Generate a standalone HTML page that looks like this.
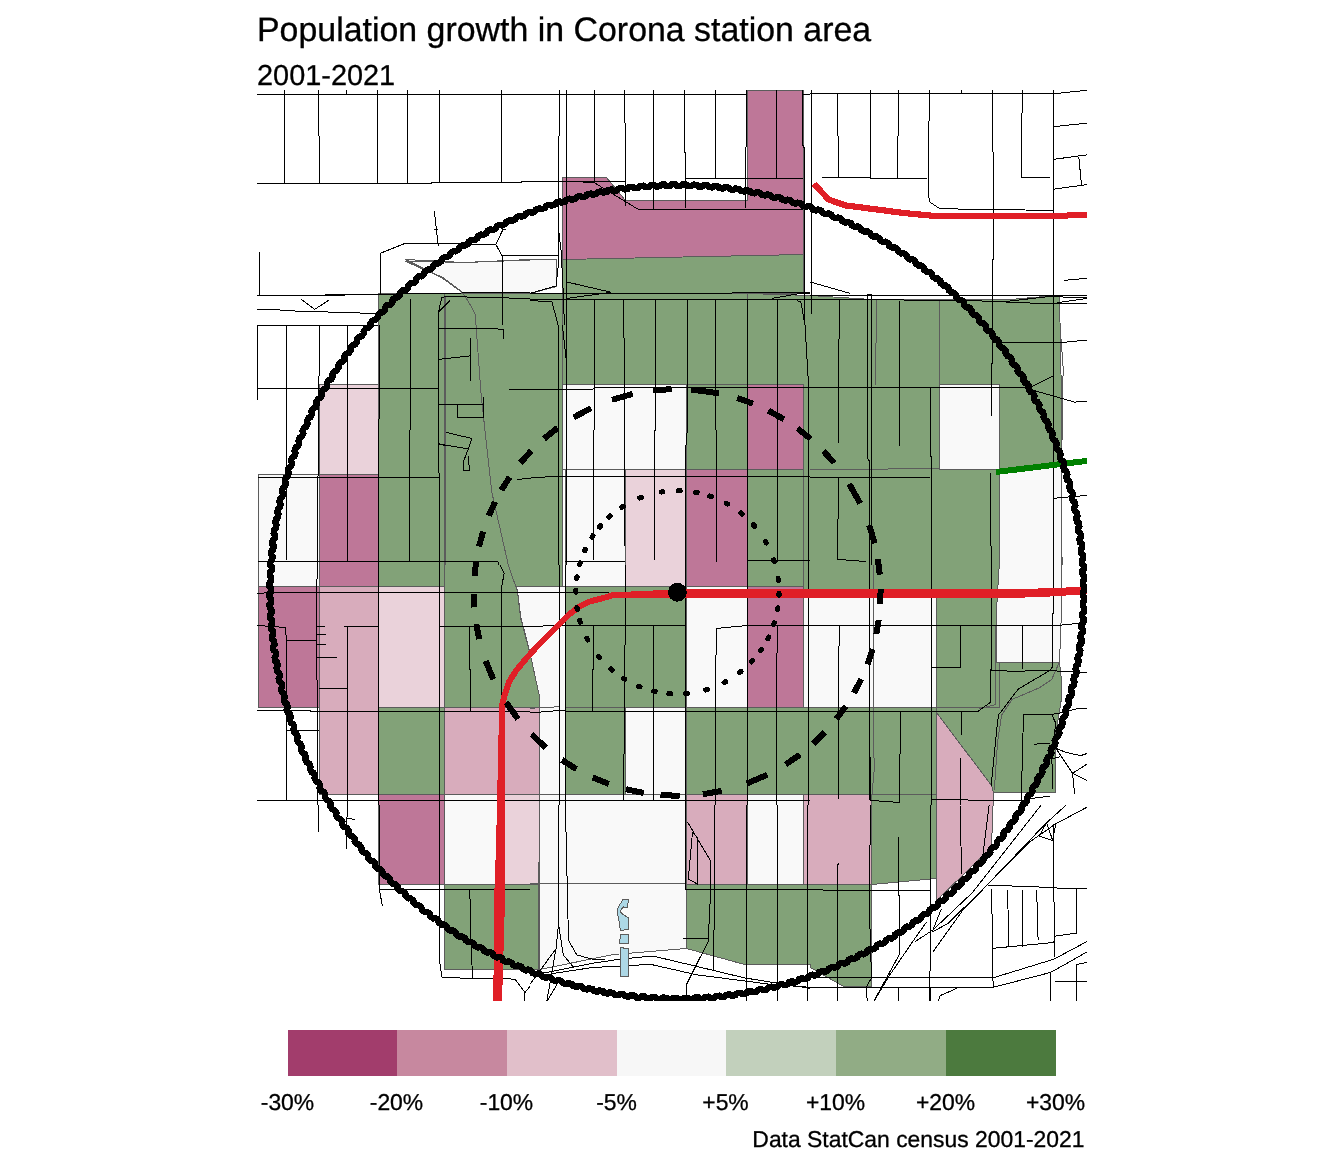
<!DOCTYPE html>
<html lang="en"><head><meta charset="utf-8"><title>Population growth in Corona station area</title>
<style>html,body{margin:0;padding:0;background:#fff}body{width:1344px;height:1152px;overflow:hidden;position:relative;font-family:"Liberation Sans",Arial,sans-serif;color:#000}svg{position:absolute;left:0;top:0;display:block}.t{position:absolute;white-space:nowrap;line-height:1;margin:0}.f polygon{stroke:#5c5c5c;stroke-width:1;stroke-linejoin:round}.s polyline,.s line{fill:none;stroke:#000;stroke-width:1}.gb polyline{fill:none;stroke:#5c5c5c;stroke-width:1}</style></head><body>
<svg width="1344" height="1152" viewBox="0 0 1344 1152" shape-rendering="crispEdges">
<defs><clipPath id="cp"><rect x="257" y="90" width="830" height="911"/></clipPath></defs>
<g clip-path="url(#cp)">
<g class="f">
<polygon points="562.5,259.5 803.5,254.5 803.5,293.5 562.5,293.5" fill="#82A278"/>
<polygon points="378.5,293.5 444.5,293.5 444.5,586.5 378.5,586.5" fill="#82A278"/>
<polygon points="444.5,293.5 562.5,293.5 562.5,586.5 516.5,586.5 517.5,591.5 520.5,617.5 530.5,655.5 539.5,696.5 539.5,707.5 444.5,707.5" fill="#82A278"/>
<polygon points="562.5,293.5 747.5,293.5 747.5,384.5 562.5,384.5" fill="#82A278"/>
<polygon points="747.5,293.5 810.5,295.5 871.5,299.5 918.5,299.5 965.5,299.5 1010.5,299.5 1055.5,295.5 1059.5,295.5 1061.5,400.5 1061.5,462.5 999.5,469.5 999.5,384.5 939.5,384.5 939.5,469.5 999.5,469.5 999.5,707.5 936.5,707.5 936.5,591.5 803.5,591.5 803.5,384.5 747.5,384.5" fill="#82A278"/>
<polygon points="686.5,384.5 747.5,384.5 747.5,469.5 686.5,469.5" fill="#82A278"/>
<polygon points="747.5,469.5 803.5,469.5 803.5,586.5 747.5,586.5" fill="#82A278"/>
<polygon points="565.5,586.5 686.5,586.5 686.5,707.5 565.5,707.5" fill="#82A278"/>
<polygon points="378.5,707.5 444.5,707.5 444.5,794.5 378.5,794.5" fill="#82A278"/>
<polygon points="565.5,707.5 625.5,707.5 625.5,794.5 565.5,794.5" fill="#82A278"/>
<polygon points="686.5,707.5 936.5,707.5 936.5,794.5 686.5,794.5" fill="#82A278"/>
<polygon points="999.5,662.5 1059.5,662.5 1061.5,680.5 1061.5,698.5 1055.5,735.5 1055.5,765.5 1055.5,792.5 993.5,792.5 991.5,785.5 936.5,712.5 936.5,707.5 999.5,707.5" fill="#82A278"/>
<polygon points="871.5,794.5 936.5,794.5 936.5,878.5 871.5,884.5" fill="#82A278"/>
<polygon points="444.5,884.5 539.5,884.5 539.5,969.5 444.5,969.5" fill="#82A278"/>
<polygon points="686.5,884.5 871.5,884.5 871.5,986.5 843.5,986.5 810.5,967.5 810.5,964.5 744.5,964.5 686.5,948.5" fill="#82A278"/>
<polygon points="747.5,90.5 803.5,90.5 803.5,254.5 562.5,259.5 562.5,177.5 606.5,177.5 625.5,200.5 747.5,200.5" fill="#BE7798"/>
<polygon points="747.5,384.5 803.5,384.5 803.5,469.5 747.5,469.5" fill="#BE7798"/>
<polygon points="319.5,474.5 378.5,474.5 378.5,586.5 319.5,586.5" fill="#BE7798"/>
<polygon points="686.5,469.5 747.5,469.5 747.5,586.5 686.5,586.5" fill="#BE7798"/>
<polygon points="258.5,586.5 319.5,586.5 319.5,707.5 258.5,707.5 258.5,650.5" fill="#BE7798"/>
<polygon points="747.5,586.5 803.5,586.5 803.5,707.5 747.5,707.5" fill="#BE7798"/>
<polygon points="378.5,794.5 444.5,794.5 444.5,884.5 378.5,884.5" fill="#BE7798"/>
<polygon points="319.5,586.5 378.5,586.5 378.5,794.5 319.5,794.5 319.5,707.5" fill="#D8ACBC"/>
<polygon points="444.5,707.5 539.5,707.5 539.5,794.5 444.5,794.5" fill="#D8ACBC"/>
<polygon points="686.5,794.5 747.5,794.5 747.5,884.5 686.5,884.5" fill="#D8ACBC"/>
<polygon points="803.5,794.5 871.5,794.5 871.5,884.5 803.5,884.5" fill="#D8ACBC"/>
<polygon points="936.5,712.5 991.5,785.5 993.5,792.5 991.5,847.5 936.5,900.5 936.5,794.5" fill="#D8ACBC"/>
<polygon points="319.5,384.5 378.5,384.5 378.5,474.5 319.5,474.5" fill="#EAD2DA"/>
<polygon points="625.5,469.5 686.5,469.5 686.5,586.5 625.5,586.5" fill="#EAD2DA"/>
<polygon points="378.5,586.5 444.5,586.5 444.5,707.5 378.5,707.5" fill="#EAD2DA"/>
<polygon points="500.5,794.5 539.5,794.5 539.5,884.5 500.5,884.5" fill="#EAD2DA"/>
<polygon points="405.5,259.5 463.5,262.5 530.5,259.5 556.5,259.5 556.5,286.5 530.5,293.5 463.5,293.5 441.5,277.5" fill="#F9F9F9"/>
<polygon points="562.5,384.5 686.5,384.5 686.5,469.5 562.5,469.5" fill="#F9F9F9"/>
<polygon points="939.5,384.5 999.5,384.5 999.5,469.5 939.5,469.5" fill="#F9F9F9"/>
<polygon points="258.5,474.5 319.5,474.5 319.5,586.5 258.5,586.5" fill="#F9F9F9"/>
<polygon points="565.5,469.5 625.5,469.5 625.5,586.5 565.5,586.5" fill="#F9F9F9"/>
<polygon points="999.5,469.5 1061.5,462.5 1061.5,560.5 1061.5,610.5 1059.5,662.5 996.5,662.5 996.5,610.5 999.5,560.5" fill="#F9F9F9"/>
<polygon points="516.5,586.5 565.5,586.5 565.5,794.5 539.5,794.5 539.5,707.5 539.5,696.5 530.5,655.5 520.5,617.5 517.5,591.5" fill="#F9F9F9"/>
<polygon points="686.5,586.5 747.5,586.5 747.5,707.5 686.5,707.5" fill="#F9F9F9"/>
<polygon points="803.5,591.5 936.5,591.5 936.5,707.5 803.5,707.5" fill="#F9F9F9"/>
<polygon points="625.5,707.5 686.5,707.5 686.5,794.5 625.5,794.5" fill="#F9F9F9"/>
<polygon points="747.5,794.5 803.5,794.5 803.5,884.5 747.5,884.5" fill="#F9F9F9"/>
<polygon points="444.5,794.5 500.5,794.5 500.5,884.5 444.5,884.5" fill="#F9F9F9"/>
<polygon points="539.5,794.5 686.5,794.5 686.5,948.5 613.5,954.5 539.5,969.5" fill="#F9F9F9"/>
</g>
<g class="gb">
<polyline points="405.2,261.0 464.6,262.5 530.0,260.0"/>
<polyline points="405.2,261.0 422.9,269.4 441.7,276.7 462.5,292.3 470.8,305.8 475.0,314.2 476.0,325.0"/>
<polyline points="445.4,296.5 445.4,325.0"/>
<polyline points="939.2,300.6 939.2,325.0"/>
<polyline points="876.2,299.6 876.2,325.0"/>
<polyline points="445.4,325.0 445.4,565.0"/>
<polyline points="476.0,325.0 481.2,395.8 491.7,491.7 508.3,565.0"/>
<polyline points="876.2,325.0 875.6,385.4"/>
<polyline points="939.6,325.0 939.6,385.4"/>
<polyline points="810.0,469.2 874.6,469.2 939.2,468.3"/>
<polyline points="1060.0,325.0 1063.1,366.7 1062.5,429.2 1061.0,462.5 1062.1,565.0"/>
<polyline points="444.8,565.0 444.8,794.2"/>
<polyline points="508.3,565.0 517.7,592.1 520.8,617.1 530.0,652.5"/>
<polyline points="530.0,708.3 559.2,706.7"/>
<polyline points="873.5,565.0 873.5,752.5 874.6,765.0 871.5,800.4"/>
<polyline points="995.4,625.4 995.4,704.6 978.8,708.8"/>
<polyline points="1059.0,662.9 1051.7,679.6 1039.2,687.9 1012.1,699.4 1001.7,715.0 997.5,742.1 994.4,790.0"/>
<polyline points="530.0,883.8 686.2,883.8"/>
<polyline points="539.4,805.0 538.3,969.6"/>
</g>
<g class="s">
<polyline points="257.1,94.4 530.0,94.4"/>
<polyline points="284.6,90.2 284.6,182.5"/>
<polyline points="377.5,90.2 377.5,182.5"/>
<polyline points="407.5,90.2 407.5,182.5"/>
<polyline points="439.6,90.2 439.6,182.5"/>
<polyline points="501.5,90.2 501.5,182.5"/>
<polyline points="318.3,90.2 318.3,135.0 319.4,137.1 319.4,182.9"/>
<polyline points="346.2,90.2 346.2,94.4"/>
<polyline points="257.1,183.1 431.2,183.1 433.3,182.3 520.8,182.3 522.9,181.5 530.0,181.5"/>
<polyline points="259.4,251.7 259.4,295.4"/>
<polyline points="257.1,295.4 325.0,295.4 395.8,294.0 468.8,292.9 530.0,292.5"/>
<polyline points="325.0,294.0 379.2,294.4"/>
<polyline points="257.1,309.4 270.8,309.4 302.1,311.5 333.3,312.1 375.0,313.5"/>
<polyline points="301.0,299.2 314.6,309.4 328.8,300.2"/>
<polyline points="257.1,325.0 378.1,325.0"/>
<polyline points="380.2,295.4 380.2,253.3 405.2,243.3 495.8,244.4 503.1,229.2 505.8,229.2"/>
<polyline points="495.8,244.4 502.1,255.8 530.0,255.8"/>
<polyline points="502.7,255.8 502.7,325.0"/>
<polyline points="434.4,211.0 436.5,230.8 438.5,246.5"/>
<polyline points="434.4,229.2 437.5,229.2"/>
<polyline points="410.4,298.5 410.4,325.0"/>
<polyline points="438.5,325.0 438.5,312.1 450.0,300.6"/>
<polyline points="438.5,312.1 441.7,297.5 445.8,296.5 530.0,298.5"/>
<polyline points="530.0,94.4 746.7,94.4"/>
<polyline points="802.9,94.4 810.0,94.4"/>
<polyline points="559.6,90.2 559.6,135.0 558.5,137.1 558.5,228.8 558.5,264.2 556.0,286.0 530.0,293.3"/>
<polyline points="558.5,228.8 561.2,251.7 563.3,293.3 564.4,325.0"/>
<polyline points="566.5,90.2 566.5,325.0"/>
<polyline points="594.6,90.2 594.6,181.9"/>
<polyline points="624.8,90.2 624.8,122.5 625.8,124.6 625.8,205.8"/>
<polyline points="653.5,90.2 653.5,209.4"/>
<polyline points="684.6,90.2 684.6,151.7 685.6,153.8 685.6,207.9"/>
<polyline points="715.4,90.2 715.4,178.1"/>
<polyline points="746.7,90.2 746.7,145.4 745.6,147.5 745.6,207.9"/>
<polyline points="776.5,90.2 776.5,178.1"/>
<polyline points="802.9,90.2 802.9,145.4 804.0,147.5 804.0,325.0"/>
<polyline points="685.8,178.1 802.9,178.1"/>
<polyline points="638.3,209.4 802.9,209.4"/>
<polyline points="530.0,181.5 625.8,181.5"/>
<polyline points="575.8,181.5 594.6,182.9 638.3,209.4"/>
<polyline points="530.0,255.8 558.1,255.8"/>
<polyline points="566.5,281.9 611.2,292.3 566.5,298.5"/>
<polyline points="530.0,293.3 810.0,292.9"/>
<polyline points="530.0,299.2 810.0,299.2"/>
<polyline points="594.6,299.6 594.6,325.0"/>
<polyline points="623.8,299.6 623.8,325.0"/>
<polyline points="655.6,299.6 655.6,325.0"/>
<polyline points="687.3,299.6 687.3,325.0"/>
<polyline points="715.4,299.6 715.4,325.0"/>
<polyline points="747.7,299.6 747.7,325.0"/>
<polyline points="777.9,299.6 777.9,325.0"/>
<polyline points="551.9,301.7 558.1,325.0"/>
<polyline points="530.0,300.6 551.9,301.7"/>
<polyline points="771.7,298.5 800.8,293.3 810.0,293.3"/>
<polyline points="796.7,300.6 800.8,301.7 805.0,325.0"/>
<polyline points="810.0,93.8 1053.8,93.8 1087.1,90.2"/>
<polyline points="811.0,90.2 811.0,314.2"/>
<polyline points="837.7,94.4 837.7,135.0 838.5,137.1 838.5,177.3"/>
<polyline points="870.4,90.2 870.4,178.1"/>
<polyline points="898.5,90.2 898.5,135.0 897.5,137.1 897.5,178.1"/>
<polyline points="929.2,90.2 929.2,114.2 928.1,157.9 928.1,178.1 929.2,201.7 939.2,208.3 968.3,209.4 1024.6,210.0 1053.3,210.4"/>
<polyline points="961.5,90.2 961.5,94.4"/>
<polyline points="992.7,90.2 992.7,151.7 993.8,153.8 993.8,257.9 992.7,260.0 992.7,325.0"/>
<polyline points="1022.5,90.2 1022.5,112.1 1021.5,114.2 1021.5,177.3 1049.6,177.3"/>
<polyline points="1053.3,90.2 1053.3,325.0"/>
<polyline points="821.9,177.3 868.3,177.3 870.4,178.1 926.7,178.1"/>
<polyline points="1053.3,126.7 1087.1,123.1"/>
<polyline points="1053.3,159.4 1087.1,154.8"/>
<polyline points="1053.3,189.2 1087.1,184.6"/>
<polyline points="1078.8,156.9 1081.5,185.0"/>
<polyline points="1064.2,280.4 1087.1,278.3"/>
<polyline points="810.0,295.4 1087.1,295.4"/>
<polyline points="810.0,281.9 849.6,293.3"/>
<polyline points="867.3,294.4 871.5,294.4 871.5,325.0"/>
<polyline points="867.3,294.4 867.3,325.0"/>
<polyline points="810.0,299.2 972.5,300.6 1037.1,303.3 1087.1,303.3"/>
<polyline points="1003.8,301.7 1049.6,296.5 1087.1,297.9"/>
<polyline points="1056.9,302.7 1087.1,298.5"/>
<polyline points="839.2,299.6 839.2,325.0"/>
<polyline points="899.6,300.6 899.6,325.0"/>
<polyline points="257.5,325.0 257.5,400.0"/>
<polyline points="257.5,388.1 438.5,388.1"/>
<polyline points="286.5,325.0 286.5,560.4"/>
<polyline points="319.4,325.0 319.4,375.0 318.3,377.1 318.3,475.0 317.3,478.1 317.3,565.0"/>
<polyline points="347.3,325.0 347.3,561.5"/>
<polyline points="379.2,325.0 379.2,418.8 378.5,420.8 378.5,565.0"/>
<polyline points="410.4,325.0 410.4,429.2 409.4,431.2 409.4,561.5"/>
<polyline points="438.5,325.0 438.5,470.8 439.6,475.0 439.6,565.0"/>
<polyline points="257.5,477.7 439.6,477.7"/>
<polyline points="257.5,561.5 497.9,561.5 499.0,565.0"/>
<polyline points="438.5,328.8 495.8,328.8 503.1,329.6 503.1,338.5"/>
<polyline points="470.4,337.5 470.4,380.8"/>
<polyline points="438.5,359.4 470.4,355.8"/>
<polyline points="509.0,389.6 530.0,389.6"/>
<polyline points="438.5,404.2 483.3,404.2 483.3,396.5"/>
<polyline points="457.3,404.2 457.3,417.3 483.3,417.3 483.3,404.2"/>
<polyline points="445.8,432.3 471.9,438.5 468.3,449.0 438.5,443.8"/>
<polyline points="438.5,443.8 445.8,445.8"/>
<polyline points="468.3,449.0 463.5,461.5 463.5,470.2 469.4,470.2 468.3,456.2"/>
<polyline points="516.7,479.6 530.0,478.1"/>
<polyline points="558.5,325.0 558.5,565.0"/>
<polyline points="562.3,325.0 566.5,362.5"/>
<polyline points="566.5,325.0 566.5,565.0"/>
<polyline points="594.6,325.0 594.6,429.2 593.5,431.2 593.5,560.4"/>
<polyline points="623.8,325.0 624.8,387.5 624.8,545.8"/>
<polyline points="655.6,325.0 655.6,429.2 654.6,431.2 654.6,560.4"/>
<polyline points="687.3,325.0 687.3,429.2 685.8,447.9 685.8,565.0"/>
<polyline points="715.4,325.0 715.4,429.2 716.5,431.2 716.5,561.5"/>
<polyline points="747.7,325.0 747.7,565.0"/>
<polyline points="777.9,325.0 777.9,561.5"/>
<polyline points="805.0,325.0 808.1,377.1 808.3,565.0"/>
<polyline points="530.0,389.6 592.5,389.6 594.6,387.5 810.0,387.1"/>
<polyline points="530.0,478.1 559.2,476.0 810.0,476.0"/>
<polyline points="565.4,561.5 624.8,561.5"/>
<polyline points="747.7,560.4 810.0,560.4"/>
<polyline points="839.2,325.0 838.1,408.3 838.1,442.7"/>
<polyline points="867.7,325.0 867.7,458.3 869.0,460.4 869.0,565.0"/>
<polyline points="871.5,325.0 871.5,565.0"/>
<polyline points="899.6,325.0 899.6,445.8"/>
<polyline points="930.8,387.5 930.8,456.2 931.9,458.3 931.9,565.0"/>
<polyline points="992.7,325.0 992.7,362.5 991.2,364.6 991.2,415.6"/>
<polyline points="990.8,473.3 990.8,545.8 991.7,547.9 991.7,565.0"/>
<polyline points="1053.3,325.0 1053.3,565.0"/>
<polyline points="810.0,387.1 1022.5,387.1 1030.8,389.6 1074.6,402.1 1087.1,401.0"/>
<polyline points="1030.8,387.1 1053.3,376.0"/>
<polyline points="992.7,342.7 1060.0,342.7 1087.1,340.0"/>
<polyline points="810.0,477.7 929.8,477.7"/>
<polyline points="838.1,478.1 838.1,518.8 837.1,521.9 837.1,559.4 866.2,561.5"/>
<polyline points="1053.3,498.3 1087.1,495.4"/>
<polyline points="257.1,593.1 333.3,592.1 530.0,592.1"/>
<polyline points="378.5,565.0 378.5,805.0"/>
<polyline points="439.6,565.0 439.6,805.0"/>
<polyline points="317.7,565.0 317.7,577.5 316.7,579.6 316.7,679.6 317.7,681.7 317.7,805.0"/>
<polyline points="257.1,625.4 285.4,627.5 286.5,640.0 316.7,640.0"/>
<polyline points="286.5,640.0 286.5,800.4"/>
<polyline points="316.7,626.0 325.0,626.0"/>
<polyline points="316.7,634.4 326.0,634.4"/>
<polyline points="316.7,644.2 326.0,644.2"/>
<polyline points="316.7,657.3 337.1,657.3"/>
<polyline points="344.2,626.5 378.5,626.5"/>
<polyline points="347.3,626.5 347.3,805.0"/>
<polyline points="318.8,688.3 347.3,688.3"/>
<polyline points="257.1,710.2 310.4,710.2 310.4,711.5 530.0,711.5"/>
<polyline points="286.5,730.6 318.8,730.6"/>
<polyline points="257.1,800.4 530.0,800.4"/>
<polyline points="469.8,626.5 469.8,669.2 470.8,671.2 470.8,710.8"/>
<polyline points="439.6,626.5 530.0,626.5"/>
<polyline points="500.0,565.0 504.2,573.3 501.0,590.0 501.0,702.5"/>
<polyline points="559.2,565.0 559.2,805.0"/>
<polyline points="565.4,565.0 565.4,805.0"/>
<polyline points="625.4,565.0 625.4,644.2 624.4,646.2 624.4,752.5 623.8,754.6 623.8,800.4"/>
<polyline points="593.1,625.8 593.1,669.2 592.1,671.2 592.1,711.5"/>
<polyline points="653.5,625.8 653.5,800.4"/>
<polyline points="685.8,565.0 685.8,805.0"/>
<polyline points="716.5,628.5 715.4,690.0 715.4,805.0"/>
<polyline points="716.5,628.5 747.7,625.4"/>
<polyline points="747.7,565.0 747.7,805.0"/>
<polyline points="777.9,625.4 776.5,669.2 776.9,805.0"/>
<polyline points="808.3,565.0 808.3,805.0"/>
<polyline points="530.0,592.1 609.2,592.1"/>
<polyline points="530.0,626.5 559.2,625.4 685.8,625.4"/>
<polyline points="747.7,625.4 810.0,625.4"/>
<polyline points="530.0,712.9 555.0,710.8 592.1,711.5 810.0,711.5"/>
<polyline points="530.0,800.4 810.0,800.4"/>
<polyline points="869.0,565.0 869.0,800.4"/>
<polyline points="931.5,565.0 931.5,805.0"/>
<polyline points="991.2,565.0 991.2,669.2 990.2,671.2 990.2,702.5 977.7,711.5"/>
<polyline points="1053.3,565.0 1053.3,612.9 1052.3,615.0 1052.3,667.1 1049.6,670.6"/>
<polyline points="810.0,625.4 1057.9,625.4 1078.8,623.3"/>
<polyline points="839.8,626.5 838.1,669.2 838.1,799.4"/>
<polyline points="931.5,667.1 960.4,667.1 960.4,626.0"/>
<polyline points="1022.5,625.4 1022.5,669.2"/>
<polyline points="810.0,711.5 977.7,711.5"/>
<polyline points="991.2,670.6 1014.2,671.2 1049.6,670.6 1087.1,672.7"/>
<polyline points="1049.6,670.6 1018.3,689.0 998.5,715.0 996.5,731.7 991.2,785.8"/>
<polyline points="961.7,711.5 961.7,734.8"/>
<polyline points="960.0,757.7 960.0,805.0"/>
<polyline points="900.6,711.5 900.6,752.5 899.6,754.6 899.6,802.5"/>
<polyline points="869.0,752.5 870.4,758.8 870.4,800.4"/>
<polyline points="1024.0,714.4 1051.7,714.4 1066.2,711.9"/>
<polyline points="1024.0,714.4 1022.5,742.1 1021.5,800.4"/>
<polyline points="1051.7,714.4 1055.8,723.3 1051.7,752.5 1052.7,789.0"/>
<polyline points="1034.0,744.2 1049.6,743.1"/>
<polyline points="1068.3,710.8 1076.7,708.8 1087.1,708.3"/>
<polyline points="1055.8,748.3 1066.2,752.5 1080.8,755.6 1087.1,753.5"/>
<polyline points="1055.8,748.3 1072.5,773.3 1074.6,794.2"/>
<polyline points="1051.7,758.8 1060.0,756.7"/>
<polyline points="1072.5,773.3 1087.1,780.6"/>
<polyline points="1072.5,773.3 1087.1,764.0"/>
<polyline points="930.8,799.4 991.2,800.4 1021.5,800.4 1032.9,798.3 1049.6,796.2"/>
<polyline points="870.4,800.4 899.6,802.5"/>
<polyline points="318.8,805.0 318.8,832.1"/>
<polyline points="347.3,805.0 346.2,848.8"/>
<polyline points="346.2,817.9 354.8,819.6"/>
<polyline points="379.2,805.0 379.2,888.3 382.3,905.6"/>
<polyline points="439.6,805.0 439.6,961.2 442.1,977.9 508.3,978.3 515.6,980.0 525.0,992.5 524.6,1001.9"/>
<polyline points="379.2,889.4 530.0,889.4"/>
<polyline points="469.8,889.4 470.8,934.2 472.5,977.9"/>
<polyline points="525.0,992.5 530.0,986.2"/>
<polyline points="558.5,805.0 558.5,923.8 556.0,948.8 530.0,984.2"/>
<polyline points="565.4,805.0 568.5,940.4 576.9,955.0 592.5,959.2 605.0,959.6"/>
<polyline points="558.5,923.8 563.3,955.0 573.8,967.5"/>
<polyline points="556.0,948.8 546.7,1001.9"/>
<polyline points="557.1,984.2 546.7,1001.9"/>
<polyline points="685.8,805.0 685.8,889.4 810.0,889.4"/>
<polyline points="687.3,821.7 710.2,860.2 710.2,900.8 708.1,941.5 686.2,985.2 686.2,996.7"/>
<polyline points="692.5,832.1 688.3,879.0 697.7,884.2 697.7,838.3 692.5,832.1"/>
<polyline points="714.4,805.0 714.4,909.2 713.3,969.6"/>
<polyline points="746.7,805.0 746.7,1001.9"/>
<polyline points="777.5,805.0 777.5,1001.9"/>
<polyline points="807.1,805.0 807.1,1001.9"/>
<polyline points="683.1,938.3 708.1,938.3"/>
<polyline points="530.0,975.8 592.5,963.3 619.6,959.2 652.9,956.0 688.3,964.4 744.6,977.9 810.0,988.3"/>
<polyline points="550.8,973.8 592.5,967.5 650.8,964.4 696.7,974.8 769.6,984.2 810.0,987.3"/>
<polyline points="838.1,863.3 837.1,877.9 837.1,1001.9"/>
<polyline points="870.4,805.0 869.4,909.2 871.5,977.9 866.2,987.3 867.3,1001.9"/>
<polyline points="898.5,837.3 898.5,894.6 899.6,896.7 899.6,954.0 873.5,1001.9"/>
<polyline points="930.4,805.0 930.4,969.6 929.8,971.7 929.8,1001.9"/>
<polyline points="960.0,805.0 961.7,873.8"/>
<polyline points="989.2,805.0 982.9,855.0"/>
<polyline points="810.0,889.4 822.5,889.4 823.5,890.4 929.8,890.4"/>
<polyline points="810.0,977.9 992.9,977.9 1053.8,959.2 1087.1,941.5"/>
<polyline points="810.0,987.3 993.3,987.3 1049.6,972.7 1055.8,969.6 1087.1,951.9"/>
<polyline points="992.9,977.9 993.3,987.3"/>
<polyline points="991.2,889.4 992.9,940.4 992.9,977.9"/>
<polyline points="988.1,885.2 1032.9,886.7 1062.1,888.3 1087.1,888.3"/>
<polyline points="1007.5,890.4 1009.0,946.7"/>
<polyline points="1022.5,890.4 1022.5,946.7"/>
<polyline points="1036.7,890.4 1038.1,940.4"/>
<polyline points="1053.8,823.8 1053.8,888.3 1054.8,957.1"/>
<polyline points="992.9,948.3 1053.8,942.5 1054.8,936.2 1076.7,933.1 1076.7,888.3"/>
<polyline points="1050.6,972.7 1050.6,1001.9"/>
<polyline points="1076.7,964.4 1076.7,1001.9"/>
<polyline points="1076.7,964.4 1087.1,962.3"/>
<polyline points="1054.8,981.7 1087.1,981.7"/>
<polyline points="938.1,1001.9 940.2,995.6 956.9,988.3"/>
<polyline points="837.1,987.3 837.1,1001.9"/>
<polyline points="898.5,987.3 898.5,1001.9"/>
<polyline points="930.4,987.3 930.4,1001.9"/>
<polyline points="1041.2,805.0 972.5,892.5 932.9,930.0 915.2,941.5"/>
<polyline points="1066.2,805.0 1045.4,823.8 1003.8,867.5 962.1,911.2 932.9,951.9"/>
<polyline points="1087.1,807.1 1055.8,823.8 1028.8,842.5 987.1,885.2 947.5,923.8 931.9,932.1"/>
<polyline points="932.9,930.0 941.2,909.2"/>
<polyline points="926.7,921.7 912.1,942.5 889.2,975.8 873.5,1001.9"/>
<polyline points="1039.2,836.2 1052.7,840.4 1055.8,823.8"/>
<polyline points="1039.2,836.2 1046.5,822.7 1052.7,840.4"/>
</g>
<polygon points="623.0,899.5 628.6,899.5 628.6,902.8 627.8,903.2 627.8,907.5 625.5,907.5 623.4,906.9 621.7,908.6 620.5,911.8 623.0,914.3 628.6,918.0 628.6,929.6 623.8,930.0 623.8,930.6 620.5,930.6 618.9,920.5 617.2,912.3 617.2,909.4 619.3,905.3 621.3,902.4" fill="#ADD8E6" stroke="#5c5c5c" stroke-width="1"/>
<polygon points="620.5,934.5 628.6,934.5 628.6,942.8 627.8,943.6 619.3,943.6 619.3,939.5 620.5,938.6" fill="#ADD8E6" stroke="#5c5c5c" stroke-width="1"/>
<polygon points="620.3,947.1 623.8,947.1 623.8,948.4 628.6,948.4 628.6,975.7 627.8,976.6 620.3,976.6" fill="#ADD8E6" stroke="#5c5c5c" stroke-width="1"/>
<g fill="none" stroke-linejoin="round">
<polyline points="1090.0,589.5 1050.0,591.2 1018.0,592.0 677.4,592.0 665.0,593.0 638.0,594.2 612.0,595.4 605.0,597.5 589.2,601.7 578.8,606.9 568.3,615.2 557.9,625.6 547.5,636.0 537.1,646.5 526.7,657.9 516.2,670.4 509.0,681.9 504.8,694.4 502.2,705.0 502.0,900.0 499.0,1003.0" stroke="#E01F27" stroke-width="6"/>
<polyline points="1090.0,591.0 1050.0,593.5 1018.0,594.8 677.4,594.8 612.0,595.4 605.0,597.5 589.2,601.7 578.8,606.9 568.3,615.2 557.9,625.6 547.5,636.0 537.1,646.5 526.7,657.9 516.2,670.4 509.0,681.9 504.8,694.4 502.2,705.0 499.1,843.0 497.1,900.0 496.3,1003.0" stroke="#E01F27" stroke-width="6"/>
<polyline points="814.0,184.0 828.8,199.6 845.4,205.4 903.8,213.0 935.0,216.0 1065.0,216.0 1070.0,215.0 1090.0,215.0" stroke="#E01F27" stroke-width="6.2"/>
<polyline points="996,472 1090,460.5" stroke="#008000" stroke-width="6"/>
<polygon points="1083.0,591.9 1082.9,595.6 1084.6,597.2 1084.5,601.0 1082.8,602.5 1082.7,606.2 1084.3,607.9 1084.2,611.6 1082.4,613.1 1082.2,616.9 1083.8,618.6 1083.5,622.3 1081.7,623.8 1081.4,627.5 1082.9,629.2 1082.6,632.9 1080.7,634.3 1080.3,638.0 1081.8,639.8 1081.4,643.5 1079.5,644.9 1079.0,648.6 1080.4,650.4 1079.9,654.1 1078.0,655.4 1077.4,659.1 1078.8,660.9 1078.1,664.6 1076.2,665.9 1075.5,669.5 1076.8,671.4 1076.1,675.1 1074.1,676.3 1073.3,679.9 1074.6,681.9 1073.8,685.5 1071.7,686.7 1070.8,690.3 1072.1,692.2 1071.2,695.9 1069.1,697.0 1068.1,700.6 1069.3,702.6 1068.3,706.1 1066.2,707.2 1065.2,710.8 1066.3,712.8 1065.2,716.3 1063.1,717.3 1061.9,720.9 1063.0,722.9 1061.8,726.5 1059.7,727.4 1058.4,730.9 1059.5,733.0 1058.1,736.5 1056.0,737.4 1054.6,740.8 1055.6,743.0 1054.2,746.4 1052.0,747.3 1050.6,750.7 1051.5,752.8 1050.1,756.2 1047.9,757.0 1046.3,760.4 1047.2,762.6 1045.6,766.0 1043.4,766.7 1041.8,770.0 1042.6,772.2 1040.9,775.5 1038.7,776.2 1037.0,779.5 1037.8,781.7 1036.0,785.0 1033.8,785.6 1032.0,788.9 1032.7,791.1 1030.8,794.3 1028.6,794.9 1026.7,798.1 1027.3,800.3 1025.4,803.5 1023.1,804.0 1021.2,807.2 1021.8,809.4 1019.8,812.6 1017.5,813.0 1015.4,816.1 1015.9,818.4 1013.9,821.5 1011.6,821.8 1009.4,824.9 1009.9,827.2 1007.7,830.2 1005.4,830.5 1003.2,833.5 1003.6,835.8 1001.4,838.8 999.1,839.0 996.8,842.0 997.1,844.3 994.8,847.2 992.5,847.4 990.1,850.3 990.4,852.6 988.0,855.4 985.7,855.5 983.3,858.4 983.5,860.7 981.0,863.5 978.7,863.5 976.2,866.3 976.3,868.6 973.8,871.3 971.5,871.3 968.9,874.0 969.0,876.4 966.4,879.0 964.0,878.9 961.4,881.6 961.5,883.9 958.8,886.5 956.4,886.4 953.7,888.9 953.7,891.2 951.0,893.8 948.6,893.6 945.9,896.1 945.8,898.4 943.0,900.8 940.6,900.6 937.8,903.0 937.7,905.3 934.8,907.7 932.5,907.4 929.6,909.7 929.4,912.0 926.4,914.3 924.1,914.0 921.2,916.2 920.9,918.5 917.9,920.8 915.6,920.3 912.6,922.5 912.3,924.8 909.2,926.9 906.9,926.5 903.9,928.5 903.5,930.8 900.4,932.9 898.1,932.4 895.0,934.4 894.5,936.7 891.4,938.6 889.1,938.0 885.9,940.0 885.4,942.2 882.2,944.1 880.0,943.5 876.7,945.3 876.2,947.6 872.9,949.4 870.7,948.7 867.4,950.4 866.8,952.7 863.5,954.4 861.3,953.6 858.0,955.3 857.3,957.5 853.9,959.1 851.8,958.3 848.4,959.9 847.7,962.1 844.3,963.7 842.1,962.8 838.7,964.3 837.9,966.4 834.5,967.9 832.4,966.9 828.9,968.4 828.1,970.5 824.6,971.9 822.5,970.9 819.0,972.2 818.1,974.4 814.6,975.6 812.5,974.6 809.0,975.8 808.0,977.9 804.5,979.1 802.4,978.0 798.9,979.1 797.9,981.2 794.3,982.3 792.3,981.1 788.7,982.2 787.7,984.2 784.1,985.2 782.1,984.0 778.5,985.0 777.3,987.0 773.7,987.9 771.8,986.6 768.1,987.5 767.0,989.5 763.3,990.3 761.4,989.0 757.8,989.7 756.5,991.7 752.9,992.4 751.0,991.1 747.3,991.7 746.0,993.7 742.4,994.3 740.5,992.9 736.8,993.4 735.5,995.3 731.8,995.9 730.0,994.4 726.3,994.8 724.9,996.7 721.2,997.1 719.4,995.6 715.7,996.0 714.3,997.8 710.6,998.2 708.9,996.6 705.1,996.9 703.7,998.7 699.9,998.9 698.2,997.3 694.5,997.5 693.0,999.2 689.3,999.4 687.6,997.7 683.9,997.8 682.3,999.5 678.6,999.5 677.0,997.8 673.3,997.8 671.7,999.5 667.9,999.4 666.4,997.7 662.7,997.6 661.0,999.2 657.3,999.1 655.8,997.3 652.0,997.1 650.3,998.7 646.6,998.4 645.1,996.6 641.4,996.3 639.7,997.8 636.0,997.5 634.6,995.6 630.9,995.2 629.1,996.7 625.4,996.3 624.0,994.4 620.3,993.9 618.5,995.3 614.8,994.8 613.5,992.9 609.8,992.3 608.0,993.7 604.3,993.0 603.0,991.1 599.4,990.4 597.5,991.7 593.8,991.0 592.6,989.0 589.0,988.2 587.0,989.5 583.4,988.7 582.2,986.6 578.6,985.7 576.7,987.0 573.0,986.1 571.9,984.0 568.3,983.0 566.3,984.2 562.8,983.2 561.7,981.1 558.1,980.1 556.1,981.2 552.6,980.1 551.6,978.0 548.0,976.8 546.0,977.9 542.4,976.7 541.5,974.6 538.0,973.3 535.9,974.4 532.4,973.0 531.5,970.9 528.1,969.5 525.9,970.5 522.5,969.1 521.6,966.9 518.2,965.5 516.1,966.4 512.7,965.0 511.9,962.8 508.5,961.2 506.3,962.1 502.9,960.5 502.2,958.3 498.9,956.7 496.7,957.5 493.4,955.8 492.7,953.6 489.4,951.9 487.2,952.7 483.9,950.9 483.3,948.7 480.0,946.9 477.8,947.6 474.6,945.7 474.0,943.5 470.8,941.6 468.6,942.2 465.4,940.3 464.9,938.0 461.7,936.1 459.5,936.7 456.3,934.7 455.9,932.4 452.8,930.3 450.5,930.8 447.4,928.8 447.1,926.5 444.0,924.3 441.7,924.8 438.7,922.6 438.4,920.3 435.4,918.1 433.1,918.5 430.1,916.3 429.9,914.0 426.9,911.7 424.6,912.0 421.7,909.7 421.5,907.4 418.6,905.0 416.3,905.3 413.5,902.9 413.4,900.6 410.5,898.2 408.2,898.4 405.4,895.9 405.4,893.6 402.6,891.1 400.3,891.2 397.6,888.7 397.6,886.4 394.9,883.8 392.5,883.9 389.9,881.3 390.0,878.9 387.3,876.3 385.0,876.4 382.4,873.7 382.5,871.3 380.0,868.6 377.7,868.6 375.1,865.9 375.3,863.5 372.8,860.8 370.5,860.7 368.1,857.9 368.3,855.5 365.9,852.7 363.6,852.6 361.2,849.7 361.5,847.4 359.2,844.5 356.9,844.3 354.6,841.3 354.9,839.0 352.7,836.1 350.4,835.8 348.1,832.8 348.6,830.5 346.4,827.5 344.1,827.2 342.0,824.1 342.4,821.8 340.4,818.8 338.1,818.4 336.0,815.3 336.5,813.0 334.5,809.9 332.2,809.4 330.3,806.3 330.9,804.0 328.9,800.8 326.7,800.3 324.8,797.1 325.4,794.9 323.6,791.6 321.3,791.1 319.5,787.8 320.2,785.6 318.5,782.3 316.2,781.7 314.5,778.4 315.3,776.2 313.6,772.9 311.4,772.2 309.8,768.8 310.6,766.7 309.0,763.3 306.8,762.6 305.2,759.2 306.1,757.0 304.6,753.6 302.5,752.8 301.0,749.4 302.0,747.3 300.5,743.8 298.4,743.0 297.0,739.5 298.0,737.4 296.7,733.9 294.5,733.0 293.3,729.5 294.3,727.4 293.1,723.9 291.0,722.9 289.8,719.4 290.9,717.3 289.8,713.8 287.7,712.8 286.6,709.2 287.8,707.2 286.7,703.6 284.7,702.6 283.7,699.0 284.9,697.0 283.9,693.4 281.9,692.2 281.0,688.6 282.3,686.7 281.4,683.0 279.4,681.9 278.6,678.2 279.9,676.3 279.2,672.7 277.2,671.4 276.5,667.8 277.8,665.9 277.2,662.2 275.2,660.9 274.6,657.3 276.0,655.4 275.5,651.7 273.6,650.4 273.0,646.7 274.5,644.9 274.1,641.2 272.2,639.8 271.8,636.1 273.3,634.3 272.9,630.6 271.1,629.2 270.7,625.5 272.3,623.8 272.0,620.0 270.2,618.6 270.0,614.8 271.6,613.1 271.4,609.4 269.7,607.9 269.5,604.2 271.2,602.5 271.1,598.8 269.4,597.2 269.4,593.5 271.1,591.9 271.1,588.2 269.4,586.6 269.5,582.8 271.2,581.3 271.3,577.6 269.7,575.9 269.8,572.2 271.6,570.7 271.8,566.9 270.2,565.2 270.5,561.5 272.3,560.0 272.6,556.3 271.1,554.6 271.4,550.9 273.3,549.5 273.7,545.8 272.2,544.0 272.6,540.3 274.5,538.9 275.0,535.2 273.6,533.4 274.1,529.7 276.0,528.4 276.6,524.7 275.2,522.9 275.9,519.2 277.8,517.9 278.5,514.3 277.2,512.4 277.9,508.7 279.9,507.5 280.7,503.9 279.4,501.9 280.2,498.3 282.3,497.1 283.2,493.5 281.9,491.6 282.8,487.9 284.9,486.8 285.9,483.2 284.7,481.2 285.7,477.7 287.8,476.6 288.8,473.0 287.7,471.0 288.8,467.5 290.9,466.5 292.1,462.9 291.0,460.9 292.2,457.3 294.3,456.4 295.6,452.9 294.5,450.8 295.9,447.3 298.0,446.4 299.4,443.0 298.4,440.8 299.8,437.4 302.0,436.5 303.4,433.1 302.5,431.0 303.9,427.6 306.1,426.8 307.7,423.4 306.8,421.2 308.4,417.8 310.6,417.1 312.2,413.8 311.4,411.6 313.1,408.3 315.3,407.6 317.0,404.3 316.2,402.1 318.0,398.8 320.2,398.2 322.0,394.9 321.3,392.7 323.2,389.5 325.4,388.9 327.3,385.7 326.7,383.5 328.6,380.3 330.9,379.8 332.8,376.6 332.2,374.4 334.2,371.2 336.5,370.8 338.6,367.7 338.1,365.4 340.1,362.3 342.4,362.0 344.6,358.9 344.1,356.6 346.3,353.6 348.6,353.3 350.8,350.3 350.4,348.0 352.6,345.0 354.9,344.8 357.2,341.8 356.9,339.5 359.2,336.6 361.5,336.4 363.9,333.5 363.6,331.2 366.0,328.4 368.3,328.3 370.7,325.4 370.5,323.1 373.0,320.3 375.3,320.3 377.8,317.5 377.7,315.2 380.2,312.5 382.5,312.5 385.1,309.8 385.0,307.4 387.6,304.8 390.0,304.9 392.6,302.2 392.5,299.9 395.2,297.3 397.6,297.4 400.3,294.9 400.3,292.6 403.0,290.0 405.4,290.2 408.1,287.7 408.2,285.4 411.0,283.0 413.4,283.2 416.2,280.8 416.3,278.5 419.2,276.1 421.5,276.4 424.4,274.1 424.6,271.8 427.6,269.5 429.9,269.8 432.8,267.6 433.1,265.3 436.1,263.0 438.4,263.5 441.4,261.3 441.7,259.0 444.8,256.9 447.1,257.3 450.1,255.3 450.5,253.0 453.6,250.9 455.9,251.4 459.0,249.4 459.5,247.1 462.6,245.2 464.9,245.8 468.1,243.8 468.6,241.6 471.8,239.7 474.0,240.3 477.3,238.5 477.8,236.2 481.1,234.4 483.3,235.1 486.6,233.4 487.2,231.1 490.5,229.4 492.7,230.2 496.0,228.5 496.7,226.3 500.1,224.7 502.2,225.5 505.6,223.9 506.3,221.7 509.7,220.1 511.9,221.0 515.3,219.5 516.1,217.4 519.5,215.9 521.6,216.9 525.1,215.4 525.9,213.3 529.4,211.9 531.5,212.9 535.0,211.6 535.9,209.4 539.4,208.2 541.5,209.2 545.0,208.0 546.0,205.9 549.5,204.7 551.6,205.8 555.1,204.7 556.1,202.6 559.7,201.5 561.7,202.7 565.3,201.6 566.3,199.6 569.9,198.6 571.9,199.8 575.5,198.8 576.7,196.8 580.3,195.9 582.2,197.2 585.9,196.3 587.0,194.3 590.7,193.5 592.6,194.8 596.2,194.1 597.5,192.1 601.1,191.4 603.0,192.7 606.7,192.1 608.0,190.1 611.6,189.5 613.5,190.9 617.2,190.4 618.5,188.5 622.2,187.9 624.0,189.4 627.7,189.0 629.1,187.1 632.8,186.7 634.6,188.2 638.3,187.8 639.7,186.0 643.4,185.6 645.1,187.2 648.9,186.9 650.3,185.1 654.1,184.9 655.8,186.5 659.5,186.3 661.0,184.6 664.7,184.4 666.4,186.1 670.1,186.0 671.7,184.3 675.4,184.3 677.0,185.9 680.7,186.0 682.3,184.3 686.1,184.4 687.6,186.1 691.3,186.2 693.0,184.6 696.7,184.7 698.2,186.5 702.0,186.7 703.7,185.1 707.4,185.4 708.9,187.2 712.6,187.5 714.3,186.0 718.0,186.3 719.4,188.2 723.1,188.6 724.9,187.1 728.6,187.5 730.0,189.4 733.7,189.9 735.5,188.5 739.2,189.0 740.5,190.9 744.2,191.5 746.0,190.1 749.7,190.8 751.0,192.7 754.6,193.4 756.5,192.1 760.2,192.8 761.4,194.8 765.0,195.6 767.0,194.3 770.6,195.1 771.8,197.2 775.4,198.1 777.3,196.8 781.0,197.7 782.1,199.8 785.7,200.8 787.7,199.6 791.2,200.6 792.3,202.7 795.9,203.7 797.9,202.6 801.4,203.7 802.4,205.8 806.0,207.0 808.0,205.9 811.6,207.1 812.5,209.2 816.0,210.5 818.1,209.4 821.6,210.8 822.5,212.9 825.9,214.3 828.1,213.3 831.5,214.7 832.4,216.9 835.8,218.3 837.9,217.4 841.3,218.8 842.1,221.0 845.5,222.6 847.7,221.7 851.1,223.3 851.8,225.5 855.1,227.1 857.3,226.3 860.6,228.0 861.3,230.2 864.6,231.9 866.8,231.1 870.1,232.9 870.7,235.1 874.0,236.9 876.2,236.2 879.4,238.1 880.0,240.3 883.2,242.2 885.4,241.6 888.6,243.5 889.1,245.8 892.3,247.7 894.5,247.1 897.7,249.1 898.1,251.4 901.2,253.5 903.5,253.0 906.6,255.0 906.9,257.3 910.0,259.5 912.3,259.0 915.3,261.2 915.6,263.5 918.6,265.7 920.9,265.3 923.9,267.5 924.1,269.8 927.1,272.1 929.4,271.8 932.3,274.1 932.5,276.4 935.4,278.8 937.7,278.5 940.5,280.9 940.6,283.2 943.5,285.6 945.8,285.4 948.6,287.9 948.6,290.2 951.4,292.7 953.7,292.6 956.4,295.1 956.4,297.4 959.1,300.0 961.5,299.9 964.1,302.5 964.0,304.9 966.7,307.5 969.0,307.4 971.6,310.1 971.5,312.5 974.0,315.2 976.3,315.2 978.9,317.9 978.7,320.3 981.2,323.0 983.5,323.1 985.9,325.9 985.7,328.3 988.1,331.1 990.4,331.2 992.8,334.1 992.5,336.4 994.8,339.3 997.1,339.5 999.4,342.5 999.1,344.8 1001.3,347.7 1003.6,348.0 1005.9,351.0 1005.4,353.3 1007.6,356.3 1009.9,356.6 1012.0,359.7 1011.6,362.0 1013.6,365.0 1015.9,365.4 1018.0,368.5 1017.5,370.8 1019.5,373.9 1021.8,374.4 1023.7,377.5 1023.1,379.8 1025.1,383.0 1027.3,383.5 1029.2,386.7 1028.6,388.9 1030.4,392.2 1032.7,392.7 1034.5,396.0 1033.8,398.2 1035.5,401.5 1037.8,402.1 1039.5,405.4 1038.7,407.6 1040.4,410.9 1042.6,411.6 1044.2,415.0 1043.4,417.1 1045.0,420.5 1047.2,421.2 1048.8,424.6 1047.9,426.8 1049.4,430.2 1051.5,431.0 1053.0,434.4 1052.0,436.5 1053.5,440.0 1055.6,440.8 1057.0,444.3 1056.0,446.4 1057.3,449.9 1059.5,450.8 1060.7,454.3 1059.7,456.4 1060.9,459.9 1063.0,460.9 1064.2,464.4 1063.1,466.5 1064.2,470.0 1066.3,471.0 1067.4,474.6 1066.2,476.6 1067.3,480.2 1069.3,481.2 1070.3,484.8 1069.1,486.8 1070.1,490.4 1072.1,491.6 1073.0,495.2 1071.7,497.1 1072.6,500.8 1074.6,501.9 1075.4,505.6 1074.1,507.5 1074.8,511.1 1076.8,512.4 1077.5,516.0 1076.2,517.9 1076.8,521.6 1078.8,522.9 1079.4,526.5 1078.0,528.4 1078.5,532.1 1080.4,533.4 1081.0,537.1 1079.5,538.9 1079.9,542.6 1081.8,544.0 1082.2,547.7 1080.7,549.5 1081.1,553.2 1082.9,554.6 1083.3,558.3 1081.7,560.0 1082.0,563.8 1083.8,565.2 1084.0,569.0 1082.4,570.7 1082.6,574.4 1084.3,575.9 1084.5,579.6 1082.8,581.3 1082.9,585.0 1084.6,586.6 1084.6,590.3" stroke="#000" stroke-width="6.3" stroke-linejoin="round"/>
<g stroke="#000" stroke-width="6" stroke-linecap="butt">
<line x1="652.7" y1="390.5" x2="671.6" y2="389.1"/>
<line x1="611.9" y1="399.8" x2="632.7" y2="393.9"/>
<line x1="573.8" y1="417.3" x2="591.1" y2="408.1"/>
<line x1="544.0" y1="438.7" x2="557.7" y2="427.8"/>
<line x1="520.3" y1="463.0" x2="531.2" y2="450.8"/>
<line x1="501.4" y1="490.1" x2="509.7" y2="477.0"/>
<line x1="488.8" y1="515.7" x2="495.1" y2="501.8"/>
<line x1="479.0" y1="546.5" x2="483.1" y2="531.6"/>
<line x1="474.5" y1="575.8" x2="476.2" y2="561.5"/>
<line x1="691.0" y1="389.5" x2="718.9" y2="393.3"/>
<line x1="737.1" y1="398.0" x2="753.0" y2="403.6"/>
<line x1="768.4" y1="410.6" x2="784.0" y2="419.3"/>
<line x1="797.5" y1="428.4" x2="810.7" y2="438.9"/>
<line x1="823.5" y1="451.1" x2="834.1" y2="462.9"/>
<line x1="849.2" y1="483.8" x2="860.2" y2="503.5"/>
<line x1="869.2" y1="525.2" x2="874.6" y2="543.2"/>
<line x1="877.8" y1="559.0" x2="879.8" y2="574.7"/>
<line x1="880.6" y1="589.0" x2="880.3" y2="603.9"/>
<line x1="878.7" y1="620.0" x2="876.3" y2="634.1"/>
<line x1="872.6" y1="648.9" x2="867.5" y2="664.2"/>
<line x1="861.2" y1="679.1" x2="854.0" y2="693.0"/>
<line x1="845.8" y1="706.2" x2="836.4" y2="719.0"/>
<line x1="824.8" y1="732.4" x2="813.2" y2="743.6"/>
<line x1="799.9" y1="754.6" x2="785.6" y2="764.5"/>
<line x1="767.4" y1="774.7" x2="746.6" y2="783.6"/>
<line x1="721.7" y1="790.9" x2="702.9" y2="794.2"/>
<line x1="473.8" y1="594.0" x2="474.4" y2="607.4"/>
<line x1="476.3" y1="624.0" x2="479.2" y2="639.1"/>
<line x1="485.7" y1="661.0" x2="493.3" y2="679.3"/>
<line x1="506.1" y1="702.4" x2="518.0" y2="719.1"/>
<line x1="531.6" y1="734.4" x2="545.9" y2="747.7"/>
<line x1="561.9" y1="760.0" x2="576.5" y2="769.1"/>
<line x1="592.6" y1="777.4" x2="608.8" y2="784.0"/>
<line x1="626.0" y1="789.2" x2="643.7" y2="793.0"/>
<line x1="660.5" y1="795.1" x2="679.6" y2="795.8"/>
</g>
<g fill="#000" stroke="none">
<line x1="661.3" y1="492.0" x2="662.9" y2="491.7" stroke="#000" stroke-width="5.2" stroke-linecap="round"/>
<line x1="678.5" y1="490.7" x2="680.1" y2="490.7" stroke="#000" stroke-width="5.2" stroke-linecap="round"/>
<line x1="695.5" y1="492.3" x2="697.1" y2="492.6" stroke="#000" stroke-width="5.2" stroke-linecap="round"/>
<line x1="709.7" y1="496.0" x2="711.2" y2="496.5" stroke="#000" stroke-width="5.2" stroke-linecap="round"/>
<line x1="726.2" y1="503.2" x2="727.6" y2="504.0" stroke="#000" stroke-width="5.2" stroke-linecap="round"/>
<line x1="740.8" y1="512.9" x2="742.0" y2="513.9" stroke="#000" stroke-width="5.2" stroke-linecap="round"/>
<line x1="753.4" y1="524.9" x2="754.5" y2="526.1" stroke="#000" stroke-width="5.2" stroke-linecap="round"/>
<line x1="765.4" y1="541.5" x2="766.2" y2="542.9" stroke="#000" stroke-width="5.2" stroke-linecap="round"/>
<line x1="773.7" y1="559.9" x2="774.2" y2="561.4" stroke="#000" stroke-width="5.2" stroke-linecap="round"/>
<line x1="778.1" y1="578.6" x2="778.3" y2="580.2" stroke="#000" stroke-width="5.2" stroke-linecap="round"/>
<line x1="779.0" y1="593.5" x2="779.0" y2="595.1" stroke="#000" stroke-width="5.2" stroke-linecap="round"/>
<line x1="777.8" y1="607.9" x2="777.5" y2="609.5" stroke="#000" stroke-width="5.2" stroke-linecap="round"/>
<line x1="774.3" y1="622.8" x2="773.8" y2="624.4" stroke="#000" stroke-width="5.2" stroke-linecap="round"/>
<line x1="768.6" y1="637.1" x2="767.9" y2="638.6" stroke="#000" stroke-width="5.2" stroke-linecap="round"/>
<line x1="761.4" y1="649.4" x2="760.5" y2="650.7" stroke="#000" stroke-width="5.2" stroke-linecap="round"/>
<line x1="752.6" y1="660.6" x2="751.5" y2="661.8" stroke="#000" stroke-width="5.2" stroke-linecap="round"/>
<line x1="741.0" y1="671.5" x2="739.7" y2="672.5" stroke="#000" stroke-width="5.2" stroke-linecap="round"/>
<line x1="725.6" y1="681.8" x2="724.2" y2="682.5" stroke="#000" stroke-width="5.2" stroke-linecap="round"/>
<line x1="707.2" y1="689.4" x2="705.7" y2="689.9" stroke="#000" stroke-width="5.2" stroke-linecap="round"/>
<line x1="687.3" y1="693.4" x2="685.7" y2="693.6" stroke="#000" stroke-width="5.2" stroke-linecap="round"/>
<line x1="670.6" y1="693.7" x2="669.0" y2="693.6" stroke="#000" stroke-width="5.2" stroke-linecap="round"/>
<line x1="655.2" y1="691.4" x2="653.6" y2="691.1" stroke="#000" stroke-width="5.2" stroke-linecap="round"/>
<line x1="640.0" y1="686.8" x2="638.5" y2="686.2" stroke="#000" stroke-width="5.2" stroke-linecap="round"/>
<line x1="624.8" y1="679.2" x2="623.4" y2="678.4" stroke="#000" stroke-width="5.2" stroke-linecap="round"/>
<line x1="612.1" y1="670.1" x2="610.9" y2="669.1" stroke="#000" stroke-width="5.2" stroke-linecap="round"/>
<line x1="599.5" y1="657.6" x2="598.5" y2="656.3" stroke="#000" stroke-width="5.2" stroke-linecap="round"/>
<line x1="587.7" y1="639.9" x2="586.9" y2="638.5" stroke="#000" stroke-width="5.2" stroke-linecap="round"/>
<line x1="580.3" y1="622.2" x2="579.8" y2="620.6" stroke="#000" stroke-width="5.2" stroke-linecap="round"/>
<line x1="577.2" y1="609.3" x2="577.0" y2="607.7" stroke="#000" stroke-width="5.2" stroke-linecap="round"/>
<line x1="575.8" y1="592.1" x2="575.8" y2="590.5" stroke="#000" stroke-width="5.2" stroke-linecap="round"/>
<line x1="576.7" y1="578.4" x2="577.0" y2="576.8" stroke="#000" stroke-width="5.2" stroke-linecap="round"/>
<line x1="579.7" y1="564.5" x2="580.1" y2="563.0" stroke="#000" stroke-width="5.2" stroke-linecap="round"/>
<line x1="584.7" y1="550.7" x2="585.4" y2="549.2" stroke="#000" stroke-width="5.2" stroke-linecap="round"/>
<line x1="592.1" y1="537.2" x2="592.9" y2="535.8" stroke="#000" stroke-width="5.2" stroke-linecap="round"/>
<line x1="599.6" y1="527.0" x2="600.6" y2="525.8" stroke="#000" stroke-width="5.2" stroke-linecap="round"/>
<line x1="609.1" y1="517.1" x2="610.3" y2="516.0" stroke="#000" stroke-width="5.2" stroke-linecap="round"/>
<line x1="621.8" y1="507.2" x2="623.2" y2="506.4" stroke="#000" stroke-width="5.2" stroke-linecap="round"/>
<line x1="639.8" y1="497.9" x2="641.2" y2="497.3" stroke="#000" stroke-width="5.2" stroke-linecap="round"/>
</g>
</g>
<circle cx="677.4" cy="592.3" r="9.4" fill="#000"/>
</g>
<rect x="288" y="1030" width="109" height="46" fill="#A23D6C"/>
<rect x="397" y="1030" width="110" height="46" fill="#C7889F"/>
<rect x="507" y="1030" width="110" height="46" fill="#E1BFCA"/>
<rect x="617" y="1030" width="109" height="46" fill="#F7F7F7"/>
<rect x="726" y="1030" width="110" height="46" fill="#C2D0BC"/>
<rect x="836" y="1030" width="110" height="46" fill="#91AC85"/>
<rect x="946" y="1030" width="110" height="46" fill="#4C7A3E"/>
<g font-family="'Liberation Sans', Arial, Helvetica, sans-serif" fill="#000" shape-rendering="auto" text-rendering="geometricPrecision" stroke="#000" stroke-width="0.3">
<text x="257" y="41" font-size="33.9">Population growth in Corona station area</text>
<text x="257" y="85" font-size="28.9">2001-2021</text>
<text x="287.5" y="1110" font-size="22.9" text-anchor="middle">-30%</text>
<text x="396.5" y="1110" font-size="22.9" text-anchor="middle">-20%</text>
<text x="506.5" y="1110" font-size="22.9" text-anchor="middle">-10%</text>
<text x="616.5" y="1110" font-size="22.9" text-anchor="middle">-5%</text>
<text x="725.5" y="1110" font-size="22.9" text-anchor="middle">+5%</text>
<text x="835.5" y="1110" font-size="22.9" text-anchor="middle">+10%</text>
<text x="945.5" y="1110" font-size="22.9" text-anchor="middle">+20%</text>
<text x="1055.5" y="1110" font-size="22.9" text-anchor="middle">+30%</text>
<text x="1084.5" y="1146.7" font-size="22.9" text-anchor="end">Data StatCan census 2001-2021</text>
</g>
</svg>
</body></html>
